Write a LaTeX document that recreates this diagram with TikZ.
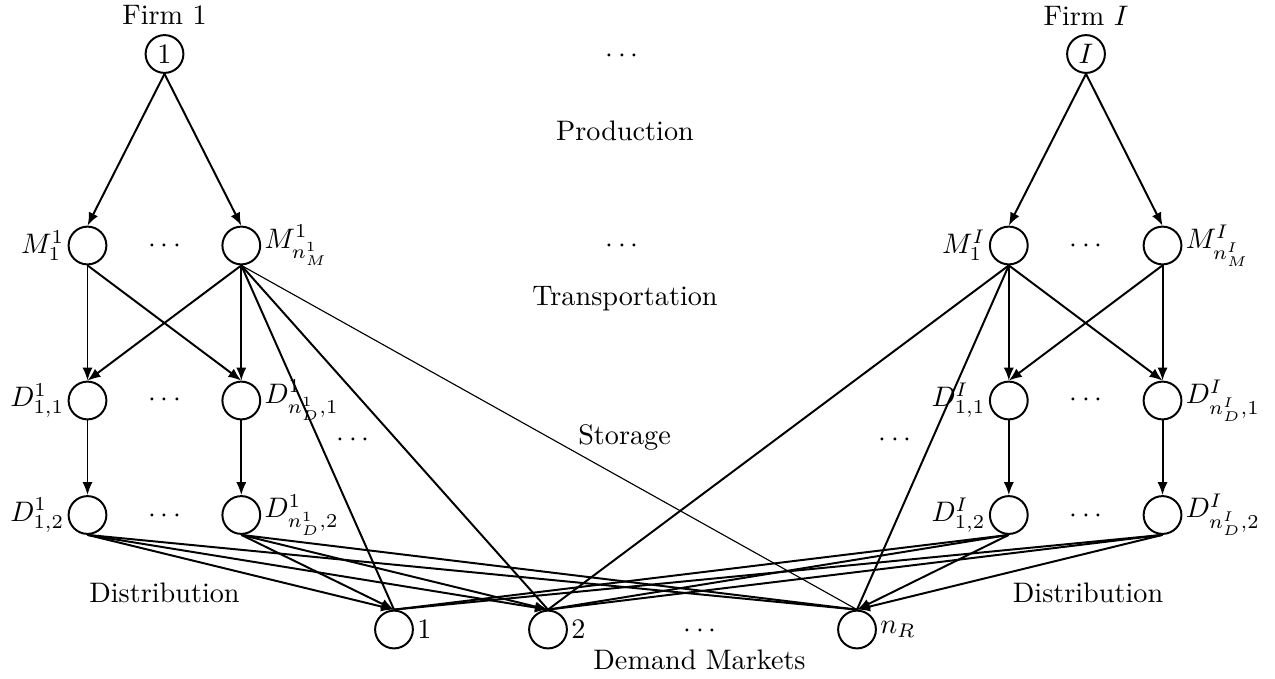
\documentclass[tikz,border=0pt]{standalone}
\usetikzlibrary{arrows.meta}
\begin{document}
\begin{tikzpicture}[x=0.3546pt,y=-0.3546pt,
  nd/.style={circle,draw,line width=0.7pt,minimum size=13.4pt,inner sep=0pt},
  every label/.style={inner sep=1pt},
  arr/.style={line width=0.7pt,-{Latex[length=4.6pt,width=3.6pt]}},
  ln/.style={line width=0.7pt},
  thinln/.style={line width=0.4pt},
  txt/.style={inner sep=0pt}]
\useasboundingbox (0,0) rectangle (1275,678);

% firms
\node[txt] (t1) at (164.5,15.4) {Firm 1};
\node[txt] (tI) at (1086,15.4) {Firm $I$};
\node[nd] (F1) at (164.5,54) {1};
\node[nd] (FI) at (1086,54) {$I$};

% manufacturing
\node[nd,label=left:{$M^1_1$}] (M11) at (87.5,245.5) {};
\node[nd,label=right:{$M^1_{n^1_M}$}] (M1n) at (241.3,245.5) {};
\node[nd,label=left:{$M^I_1$}] (MI1) at (1008.8,245.5) {};
\node[nd,label=right:{$M^I_{n^I_M}$}] (MIn) at (1162.5,245.5) {};

% storage row 1
\node[nd,label=left:{$D^1_{1,1}$}] (D11a) at (87.5,400.5) {};
\node[nd,label=right:{$D^1_{n^1_D,1}$}] (D1na) at (241.3,400.5) {};
\node[nd,label=left:{$D^I_{1,1}$}] (DI1a) at (1008.8,400.5) {};
\node[nd,label=right:{$D^I_{n^I_D,1}$}] (DIna) at (1162.5,400.5) {};

% storage row 2
\node[nd,label=left:{$D^1_{1,2}$}] (D11b) at (87.5,515) {};
\node[nd,label=right:{$D^1_{n^1_D,2}$}] (D1nb) at (241.3,515) {};
\node[nd,label=left:{$D^I_{1,2}$}] (DI1b) at (1008.8,515) {};
\node[nd,label=right:{$D^I_{n^I_D,2}$}] (DInb) at (1162.5,515) {};

% demand markets
\node[nd,label=right:{1}] (R1) at (394,629.5) {};
\node[nd,label=right:{2}] (R2) at (548,629.5) {};
\node[nd,label=right:{$n_R$}] (RN) at (857,629.5) {};

% dots
\node[txt] (dt0) at (622,56) {$\cdots$};
\node[txt] (dt1) at (622,246) {$\cdots$};
\node[txt] (dm1) at (164.5,246) {$\cdots$};
\node[txt] (dmI) at (1086,246) {$\cdots$};
\node[txt] (da1) at (164.5,400) {$\cdots$};
\node[txt] (daI) at (1086,400) {$\cdots$};
\node[txt] (db1) at (164.5,516) {$\cdots$};
\node[txt] (dbI) at (1086,516) {$\cdots$};
\node[txt] (dx1) at (353,440) {$\cdots$};
\node[txt] (dxI) at (895,440) {$\cdots$};
\node[txt] (dr) at (700,631) {$\cdots$};

% stage labels
\node[txt] (lp) at (625,131) {Production};
\node[txt] (lt) at (625,299) {Transportation};
\node[txt] (ls) at (624.5,437) {Storage};
\node[txt] (ld1) at (164.5,592.5) {Distribution};
\node[txt] (ldI) at (1088,592.5) {Distribution};
\node[txt] (ldm) at (699.5,659.5) {Demand Markets};

% production
\draw[arr] (F1.south) -- (M11.north);
\draw[arr] (F1.south) -- (M1n.north);
\draw[arr] (FI.south) -- (MI1.north);
\draw[arr] (FI.south) -- (MIn.north);

% transportation
\draw[arr] (M11.south) -- (D11a.north);
\draw[arr] (M11.south) -- (D1na.north);
\draw[arr] (M1n.south) -- (D11a.north);
\draw[arr] (M1n.south) -- (D1na.north);
\draw[arr] (MI1.south) -- (DI1a.north);
\draw[arr] (MI1.south) -- (DIna.north);
\draw[arr] (MIn.south) -- (DI1a.north);
\draw[arr] (MIn.south) -- (DIna.north);

% direct shipments
\draw[ln] (M1n.south) -- (R1.north);
\draw[ln] (M1n.south) -- (R2.north);
\draw[thinln] (M1n.south) -- (RN.north);
\draw[ln] (MI1.south) -- (R2.north);
\draw[ln] (MI1.south) -- (RN.north);

% storage
\draw[arr] (D11a.south) -- (D11b.north);
\draw[arr] (D1na.south) -- (D1nb.north);
\draw[arr] (DI1a.south) -- (DI1b.north);
\draw[arr] (DIna.south) -- (DInb.north);

% distribution
\draw[arr] (D11b.south) -- (R1.north);
\draw[arr] (D11b.south) -- (R2.north);
\draw[ln] (D11b.south) -- (RN.north);
\draw[arr] (D1nb.south) -- (R1.north);
\draw[arr] (D1nb.south) -- (R2.north);
\draw[ln] (D1nb.south) -- (RN.north);
\draw[ln] (DI1b.south) -- (R1.north);
\draw[ln] (DI1b.south) -- (R2.north);
\draw[arr] (DI1b.south) -- (RN.north);
\draw[ln] (DInb.south) -- (R1.north);
\draw[ln] (DInb.south) -- (R2.north);
\draw[arr] (DInb.south) -- (RN.north);
\end{tikzpicture}
\end{document}
